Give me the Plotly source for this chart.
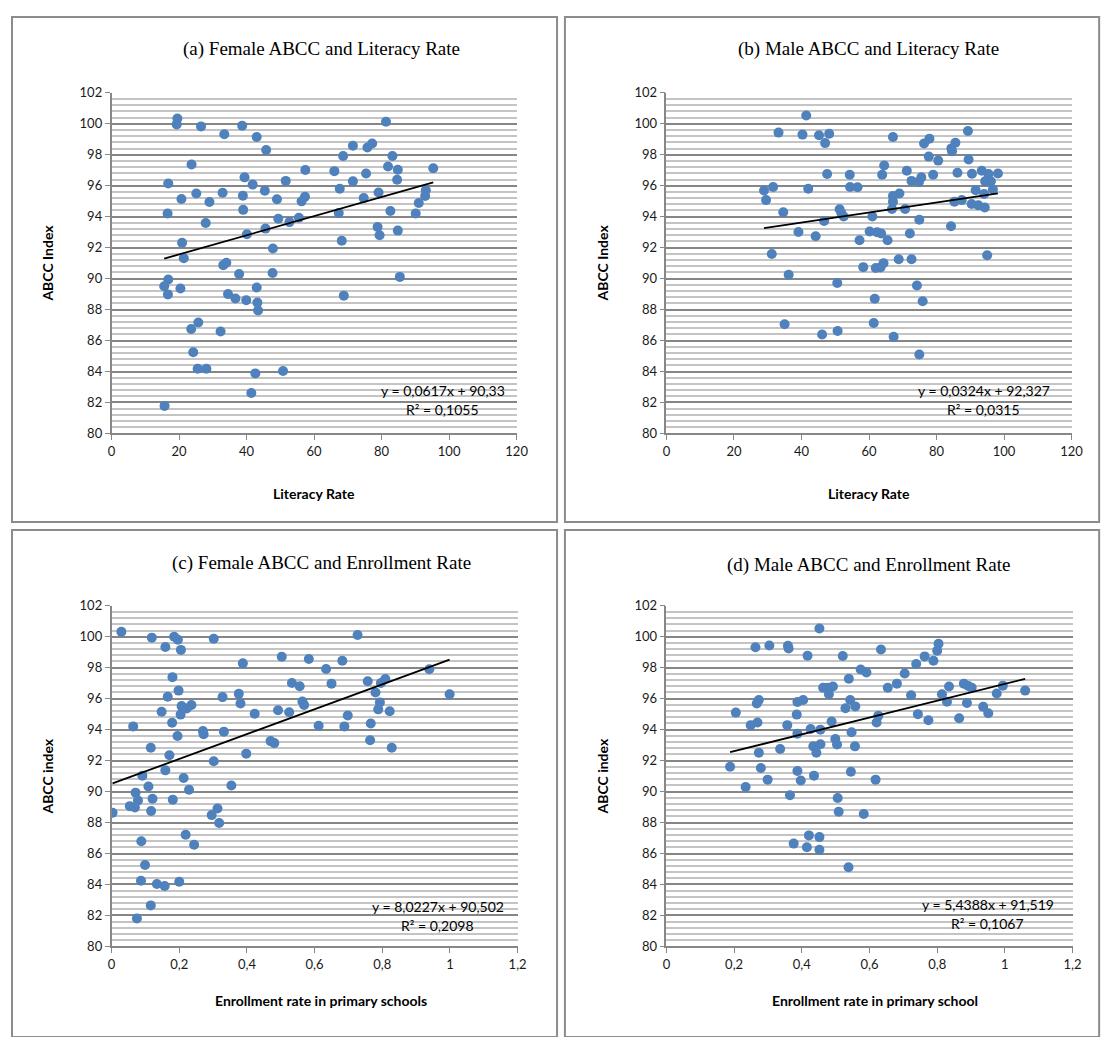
import plotly.graph_objects as go

W, H = 1113, 1037
PAGE_OFFSET = 8  # default body margin of the html page

# ---------------- data ----------------
a_x = [19.5, 19.3, 26.5, 38.7, 33.4, 43.0, 45.8, 23.7, 57.4, 66.0, 16.8, 39.4, 51.6, 41.8, 25.1,
       32.9, 45.4, 20.7, 38.9, 29.0, 49.0, 57.3, 56.3, 16.6, 39.0, 27.9, 49.4, 52.7, 55.5, 45.6,
       40.1, 20.9, 47.8, 21.4, 33.1, 34.0, 37.8, 47.7, 16.8, 15.6, 16.7, 20.4, 43.0, 34.5, 36.7,
       39.9, 43.2, 43.4, 25.7, 23.6, 32.3, 24.2, 25.5, 28.1, 42.6, 50.8, 41.4, 15.7,
       81.3, 71.5, 75.8, 77.2, 68.6, 83.2, 81.9, 84.8, 95.3, 75.4, 71.5, 84.6, 67.6, 79.1,
       74.7, 93.1, 92.9, 91.0, 67.3, 82.6, 90.1, 78.8, 79.4, 84.8, 68.2, 85.4, 68.8]
a_y = [100.34, 99.96, 99.83, 99.87, 99.32, 99.15, 98.30, 97.37, 97.01, 96.94, 96.14, 96.54, 96.31,
       96.07, 95.50, 95.54, 95.67, 95.14, 95.35, 94.95, 95.12, 95.29, 94.99, 94.20, 94.44, 93.59,
       93.86, 93.65, 93.93, 93.23, 92.87, 92.32, 91.95, 91.32, 90.87, 91.02, 90.30, 90.36, 89.94,
       89.51, 88.98, 89.36, 89.43, 89.00, 88.71, 88.60, 88.45, 87.94, 87.16, 86.75, 86.58, 85.25,
       84.18, 84.18, 83.88, 84.03, 82.61, 81.78,
       100.13, 98.58, 98.47, 98.73, 97.92, 97.92, 97.24, 97.03, 97.13, 96.79, 96.28, 96.39, 95.80,
       95.56, 95.20, 95.71, 95.33, 94.88, 94.23, 94.37, 94.20, 93.33, 92.80, 93.10, 92.44, 90.11,
       88.90]

b_x = [41.4, 33.2, 40.3, 45.2, 48.2, 47.0, 64.5, 47.6, 54.3, 63.9, 28.9, 31.6, 42.0, 54.4, 56.6,
       29.5, 34.6, 51.3, 51.8, 52.5, 61.0, 46.7, 39.1, 44.2, 57.2, 60.2, 62.4, 63.6, 65.5, 31.2,
       58.3, 62.0, 63.4, 64.3, 36.2, 50.6, 61.7, 61.4, 35.0, 50.7, 46.1,
       67.1, 89.3, 76.3, 77.9, 84.4, 85.6, 84.6, 77.7, 80.5, 89.5, 71.2, 79.0, 86.2, 90.5, 93.4,
       95.4, 98.2, 72.6, 74.8, 75.5, 94.4, 96.1, 91.6, 96.7, 94.1, 67.1, 69.0, 67.1, 85.3, 87.5,
       90.4, 92.4, 94.3, 66.8, 70.7, 74.9, 84.3, 72.1, 68.8, 72.6, 95.0, 74.2, 75.9, 67.3, 74.9]
b_y = [100.53, 99.43, 99.30, 99.26, 99.36, 98.75, 97.30, 96.75, 96.71, 96.71, 95.69, 95.92, 95.80,
       95.92, 95.90, 95.07, 94.29, 94.48, 94.23, 94.01, 94.01, 93.72, 93.01, 92.74, 92.48, 93.04,
       93.00, 92.91, 92.48, 91.59, 90.74, 90.68, 90.72, 91.00, 90.25, 89.72, 88.70, 87.13, 87.05,
       86.62, 86.39,
       99.15, 99.53, 98.73, 99.04, 98.41, 98.77, 98.22, 97.88, 97.62, 97.69, 96.96, 96.71, 96.84,
       96.77, 96.96, 96.75, 96.79, 96.31, 96.24, 96.54, 96.28, 96.28, 95.71, 95.75, 95.46, 95.33,
       95.50, 94.97, 94.97, 95.07, 94.82, 94.73, 94.59, 94.50, 94.50, 93.80, 93.38, 92.91, 91.25,
       91.25, 91.51, 89.55, 88.54, 86.24, 85.10]

c_x = [0.029, 0.119, 0.185, 0.196, 0.302, 0.159, 0.205, 0.503, 0.388, 0.583, 0.634, 0.180, 0.650,
       0.533, 0.556, 0.198, 0.166, 0.328, 0.376, 0.381, 0.207, 0.222, 0.236, 0.148, 0.204, 0.423,
       0.492, 0.525, 0.564, 0.569, 0.064, 0.179, 0.612, 0.195, 0.270, 0.272, 0.332, 0.470, 0.481,
       0.116, 0.171, 0.398, 0.302, 0.159, 0.091, 0.213, 0.109, 0.229, 0.354, 0.071, 0.078, 0.121,
       0.181, 0.054, 0.069, 0.117, 0.003, 0.313, 0.296, 0.318, 0.219, 0.244, 0.088, 0.099, 0.087,
       0.200, 0.134, 0.157, 0.116, 0.075,
       0.727, 0.682, 0.939, 0.757, 0.809, 0.796, 0.780, 0.999, 0.793, 0.788, 0.822, 0.698, 0.688,
       0.766, 0.764, 0.828]
c_y = [100.32, 99.94, 100.00, 99.81, 99.87, 99.34, 99.15, 98.71, 98.28, 98.56, 97.92, 97.39, 96.97,
       97.01, 96.80, 96.52, 96.12, 96.10, 96.31, 95.69, 95.52, 95.36, 95.59, 95.16, 94.97, 95.02,
       95.25, 95.12, 95.82, 95.59, 94.21, 94.44, 94.25, 93.59, 93.91, 93.70, 93.87, 93.26, 93.13,
       92.83, 92.34, 92.45, 91.96, 91.37, 91.03, 90.88, 90.33, 90.12, 90.39, 89.93, 89.42, 89.54,
       89.48, 89.06, 88.97, 88.74, 88.63, 88.91, 88.48, 87.97, 87.21, 86.57, 86.79, 85.26, 84.24,
       84.18, 84.03, 83.90, 82.65, 81.80,
       100.11, 98.45, 97.90, 97.12, 97.27, 97.01, 96.40, 96.29, 95.76, 95.31, 95.19, 94.91, 94.21,
       94.40, 93.32, 92.83]

d_x = [0.452, 0.263, 0.304, 0.359, 0.361, 0.417, 0.521, 0.634, 0.574, 0.591, 0.539, 0.463, 0.476,
       0.492, 0.480, 0.654, 0.273, 0.267, 0.404, 0.387, 0.543, 0.558, 0.529, 0.205, 0.385, 0.249,
       0.269, 0.357, 0.426, 0.455, 0.488, 0.387, 0.621, 0.626, 0.547, 0.499, 0.504, 0.434, 0.455,
       0.443, 0.557, 0.273, 0.336, 0.188, 0.279, 0.387, 0.436, 0.545, 0.299, 0.397, 0.618, 0.234,
       0.365, 0.506, 0.509, 0.583, 0.421, 0.452, 0.376, 0.415, 0.452, 0.538,
       0.804, 0.800, 0.789, 0.763, 0.738, 0.704, 0.681, 0.835, 0.879, 0.892, 0.902, 0.994, 1.060,
       0.723, 0.814, 0.829, 0.888, 0.976, 0.936, 0.951, 0.743, 0.774, 0.865]
d_y = [100.53, 99.32, 99.43, 99.41, 99.24, 98.77, 98.75, 99.17, 97.88, 97.69, 97.29, 96.71, 96.71,
       96.78, 96.29, 96.71, 95.91, 95.69, 95.91, 95.78, 95.91, 95.50, 95.38, 95.10, 94.97, 94.29,
       94.46, 94.29, 94.04, 94.00, 94.53, 93.74, 94.46, 94.89, 93.83, 93.40, 93.04, 92.92, 93.06,
       92.51, 92.92, 92.51, 92.75, 91.60, 91.52, 91.33, 91.03, 91.28, 90.77, 90.71, 90.77, 90.29,
       89.76, 89.59, 88.70, 88.55, 87.17, 87.06, 86.64, 86.41, 86.24, 85.11,
       99.55, 99.09, 98.45, 98.73, 98.24, 97.62, 96.97, 96.78, 96.97, 96.82, 96.71, 96.84, 96.52,
       96.22, 96.29, 95.80, 95.72, 96.33, 95.48, 95.06, 95.00, 94.61, 94.74]

slopes = [0.0617, 0.0324, 8.0227, 5.4388]
intercepts = [90.33, 92.327, 90.502, 91.519]
eq_labels = ["y = 0,0617x + 90,33", "y = 0,0324x + 92,327", "y = 8,0227x + 90,502", "y = 5,4388x + 91,519"]
r2_labels = ["R² = 0,1055", "R² = 0,0315", "R² = 0,2098", "R² = 0,1067"]

titles = ["(a) Female ABCC and Literacy Rate", "(b) Male ABCC and Literacy Rate",
          "(c) Female ABCC and Enrollment Rate", "(d) Male ABCC and Enrollment Rate"]
x_titles = ["Literacy Rate", "Literacy Rate", "Enrollment rate in primary schools",
            "Enrollment rate in primary school"]
y_titles = ["ABCC Index", "ABCC Index", "ABCC index", "ABCC index"]

xs = [a_x, b_x, c_x, d_x]
ys = [a_y, b_y, c_y, d_y]

# ---------------- layout (pixel geometry of the target page) ----------------
panels = [
    dict(box=(8, 9, 561, 522), plot=(109, 86, 520, 432), xr=(0, 120), dt=20,
         title=(322, 42), xt=(314, 493), yt=(44, 259), eq=(445, 388)),
    dict(box=(569, 9, 1111, 522), plot=(672, 86, 1083, 432), xr=(0, 120), dt=20,
         title=(877, 42), xt=(877, 493), yt=(607, 259), eq=(994, 388)),
    dict(box=(8, 530, 561, 1045), plot=(109, 607, 521, 953), xr=(0, 1.2), dt=0.2,
         title=(322, 564), xt=(321, 1008), yt=(44, 780), eq=(440, 912)),
    dict(box=(569, 530, 1111, 1045), plot=(672, 607, 1084, 953), xr=(0, 1.2), dt=0.2,
         title=(877, 566), xt=(884, 1008), yt=(607, 780), eq=(998, 910)),
]


def fx(p):
    return (p - PAGE_OFFSET) / W


def fy(p):
    return 1 - (p - PAGE_OFFSET) / H


AX = "#878787"
SANS = "Lato, Carlito, Calibri, sans-serif"
TICKFONT = dict(family=SANS, size=13, color="#1a1a1a")
BLUE = "#4F81BD"

fig = go.Figure()
annotations = []
shapes = []

for i, p in enumerate(panels):
    n = "" if i == 0 else str(i + 1)
    xa, ya = "x" + n, "y" + n
    x, y = xs[i], ys[i]
    fig.add_trace(go.Scatter(x=x, y=y, mode="markers", xaxis=xa, yaxis=ya,
                             marker=dict(color=BLUE, size=10, line=dict(width=0)),
                             showlegend=False, hoverinfo="x+y"))
    x0, x1 = min(x), max(x)
    fig.add_trace(go.Scatter(x=[x0, x1], y=[slopes[i] * x0 + intercepts[i], slopes[i] * x1 + intercepts[i]],
                             mode="lines", xaxis=xa, yaxis=ya, line=dict(color="black", width=1.8),
                             showlegend=False, hoverinfo="skip"))
    l, t, r, b = p["plot"]
    fig.layout["xaxis" + n] = dict(
        domain=[fx(l), fx(r)], anchor=ya, range=list(p["xr"]), dtick=p["dt"], tick0=0,
        showgrid=False, zeroline=False, showline=True, linecolor=AX, linewidth=1.5,
        ticks="outside", ticklen=5, tickcolor=AX, tickwidth=1.2, tickfont=TICKFONT,
    )
    fig.layout["yaxis" + n] = dict(
        domain=[fy(b), fy(t)], anchor=xa, range=[80, 102], dtick=2, tick0=80,
        showgrid=True, gridcolor="#868686", gridwidth=2, zeroline=False,
        showline=True, linecolor=AX, linewidth=1.5,
        ticks="outside", ticklen=5, tickcolor=AX, tickwidth=1.2, tickfont=TICKFONT,
        minor=dict(dtick=0.4, tick0=80, showgrid=True, gridcolor="#c4c4c4", gridwidth=2, ticks=""),
    )
    # panel frame
    bl, bt, br, bb = p["box"]
    shapes.append(dict(type="rect", xref="paper", yref="paper", x0=fx(bl), x1=fx(br), y0=fy(bb), y1=fy(bt),
                       line=dict(color="#8c8c8c", width=2), fillcolor="rgba(0,0,0,0)", layer="above"))
    annotations.append(dict(text=titles[i], x=fx(p["title"][0]), y=fy(p["title"][1]), xref="paper", yref="paper",
                            showarrow=False, xanchor="center", yanchor="middle",
                            font=dict(family="Liberation Serif, Times New Roman, serif", size=19, color="black")))
    annotations.append(dict(text="<b>" + x_titles[i] + "</b>", x=fx(p["xt"][0]), y=fy(p["xt"][1]),
                            xref="paper", yref="paper", showarrow=False, xanchor="center", yanchor="middle",
                            font=dict(family=SANS, size=14, color="black")))
    annotations.append(dict(text="<b>" + y_titles[i] + "</b>", x=fx(p["yt"][0]), y=fy(p["yt"][1]),
                            xref="paper", yref="paper", showarrow=False, xanchor="center", yanchor="middle",
                            textangle=-90, font=dict(family=SANS, size=14, color="black")))
    ex, ey = p["eq"]
    annotations.append(dict(text=eq_labels[i], x=fx(ex), y=fy(ey), xref="paper", yref="paper",
                            showarrow=False, xanchor="center", yanchor="middle",
                            font=dict(family=SANS, size=14, color="black")))
    annotations.append(dict(text=r2_labels[i], x=fx(ex), y=fy(ey + 20), xref="paper", yref="paper",
                            showarrow=False, xanchor="center", yanchor="middle",
                            font=dict(family=SANS, size=14, color="black")))

fig.update_layout(
    width=W, height=H, margin=dict(l=0, r=0, t=0, b=0),
    paper_bgcolor="white", plot_bgcolor="white",
    separators=", ", annotations=annotations, shapes=shapes,
)

fig.write_html("out.html")
